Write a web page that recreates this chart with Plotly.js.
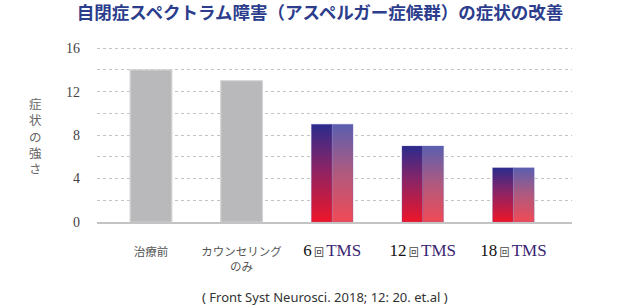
<!DOCTYPE html>
<html><head><meta charset="utf-8">
<script src="https://cdn.plot.ly/plotly-3.0.1.min.js"></script>
<style>body{margin:0;background:#fff}#chart{width:630px;height:305px}</style>
</head><body><div id="chart"></div>
<script>
const categories = ['治療前', 'カウンセリングのみ', '6回TMS', '12回TMS', '18回TMS'];
const symptomScores = [14, 13, 9, 7, 5];
const yTickValues = [0, 4, 8, 12, 16];
const titleText = '自閉症スペクトラム障害（アスペルガー症候群）の症状の改善';
const yTitleText = '症状の強さ';
const sourceNote = '( Front Syst Neurosci. 2018; 12: 20. et.al )';

const idx = categories.map((_, i) => i);
const isTMS = categories.map(c => /TMS$/.test(c));

function fmtLabel(c) {
  const m = c.match(/^(\d+)回TMS$/);
  if (m) {
    return `<span style="font-family:'Liberation Serif';font-size:17px;color:#111">${m[1]}</span>` +
           `<span style="font-family:'Noto Sans CJK JP';font-size:10px;color:#444"> 回 </span>` +
           `<span style="font-family:'Liberation Serif';font-size:17px;color:#3a2672">TMS</span>`;
  }
  return c.replace(/のみ$/, '<br>のみ');
}

const grayX = idx.filter(i => !isTMS[i]);
const grayY = grayX.map(i => symptomScores[i]);
const tmsX = idx.filter(i => isTMS[i]);
const tmsY = tmsX.map(i => symptomScores[i]);

const traces = [
  { type: 'bar', x: grayX, y: grayY, width: 0.46, offset: -0.23,
    marker: { color: '#b9b9bb', line: { color: '#d2d2d3', width: 1.2 } }, hoverinfo: 'y' },
  { type: 'bar', x: tmsX, y: tmsY, width: 0.23, offset: -0.23,
    marker: { color: '#8a2466', line: { color: 'rgba(110,110,190,0.5)', width: 0.6 } }, hoverinfo: 'y' },
  { type: 'bar', x: tmsX, y: tmsY, width: 0.23, offset: 0,
    marker: { color: '#b05a7e', line: { color: 'rgba(110,110,190,0.5)', width: 0.6 } }, hoverinfo: 'y' }
];

const annotations = [
  { text: sourceNote, xref: 'paper', yref: 'paper', x: (325 - 97) / 475, y: -(297 - 222) / 176.2,
    xanchor: 'center', yanchor: 'middle', showarrow: false,
    font: { family: 'Noto Sans, DejaVu Sans, sans-serif', size: 13, color: '#333' } },
  { text: Array.from(yTitleText).join('<br>'), xref: 'paper', yref: 'paper',
    x: (35.5 - 97) / 475, y: (222 - 136) / 176.2,
    xanchor: 'center', yanchor: 'middle', showarrow: false, borderpad: 0,
    font: { family: 'Noto Sans CJK JP', size: 12.5, color: '#666' } }
];

const layout = {
  width: 630, height: 305,
  margin: { l: 97, r: 58, t: 46, b: 83 },
  paper_bgcolor: '#fff', plot_bgcolor: '#fff',
  showlegend: false, barmode: 'overlay',
  title: { text: '<b>' + titleText + '</b>', xref: 'container', yref: 'container',
    x: 320 / 630, y: 1 - 13 / 305, xanchor: 'center', yanchor: 'middle',
    font: { family: 'Noto Sans CJK JP', size: 17.5, color: '#2b3d8c' } },
  xaxis: {
    range: [-0.596, 4.647], tickmode: 'array', tickvals: idx, ticktext: categories.map(fmtLabel),
    ticks: '', showgrid: false, zeroline: false, showline: true, linecolor: '#c4c4c4', linewidth: 2,
    ticklabelstandoff: 18, fixedrange: true,
    tickfont: { family: 'Noto Sans CJK JP', size: 11.5, color: '#555' }
  },
  yaxis: {
    range: [0, 16.2], tickmode: 'array', tickvals: yTickValues, ticks: '',
    showgrid: true, gridcolor: '#c4c4c4', gridwidth: 1, griddash: '3px,3px',
    minor: { dtick: 2, showgrid: true, gridcolor: '#c4c4c4', gridwidth: 1, griddash: '3px,3px' },
    zeroline: false, showline: false, ticklabelstandoff: 16, fixedrange: true,
    tickfont: { family: 'Liberation Serif, serif', size: 14, color: '#444' }
  },
  annotations: annotations
};

Plotly.newPlot('chart', traces, layout, { displayModeBar: false, staticPlot: true }).then(gd => {
  const svg = gd.querySelector('svg.main-svg');
  let defs = svg.querySelector('defs');
  const NS = 'http://www.w3.org/2000/svg';
  function addGrad(id, stops) {
    const g = document.createElementNS(NS, 'linearGradient');
    g.setAttribute('id', id);
    g.setAttribute('x1', '0'); g.setAttribute('y1', '0');
    g.setAttribute('x2', '0'); g.setAttribute('y2', '1');
    stops.forEach(([o, c]) => {
      const s = document.createElementNS(NS, 'stop');
      s.setAttribute('offset', o); s.setAttribute('stop-color', c);
      g.appendChild(s);
    });
    defs.appendChild(g);
  }
  addGrad('gradL', [['0', '#2a2b8d'], ['0.45', '#8a2466'], ['1', '#ee1528']]);
  addGrad('gradR', [['0', '#5a5fb0'], ['0.5', '#b05a7e'], ['1', '#f04a56']]);
  const tr = gd.querySelectorAll('.barlayer .trace');
  tr[1].querySelectorAll('path').forEach(p => { p.style.fill = 'url(#gradL)'; });
  tr[2].querySelectorAll('path').forEach(p => { p.style.fill = 'url(#gradR)'; });
});
</script>
</body></html>
